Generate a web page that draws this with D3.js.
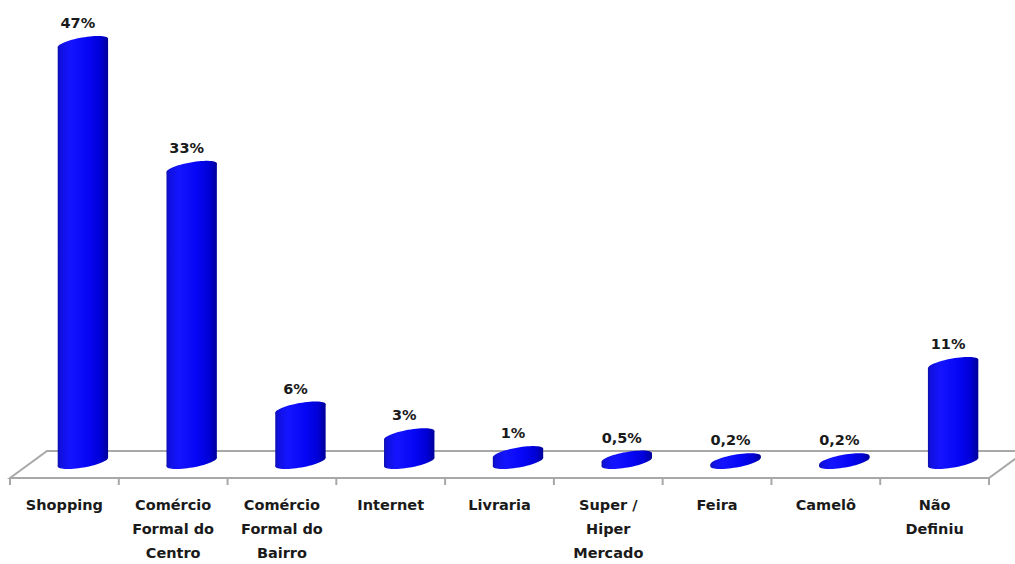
<!DOCTYPE html>
<html><head><meta charset="utf-8">
<script src="https://cdn.jsdelivr.net/npm/d3@7"></script>
<style>html,body{margin:0;padding:0;background:#fff;}svg{display:block;}</style>
</head><body>
<svg id="chart" width="1015" height="564"></svg>
<script>
const categories = ["Shopping","Comércio Formal do Centro","Comércio Formal do Bairro","Internet","Livraria","Super / Hiper Mercado","Feira","Camelô","Não Definiu"];
const categoryLines = [["Shopping"],["Comércio","Formal do","Centro"],["Comércio","Formal do","Bairro"],["Internet"],["Livraria"],["Super /","Hiper","Mercado"],["Feira"],["Camelô"],["Não","Definiu"]];
const values = [47,33,6,3,1,0.5,0.2,0.2,11];

const svg = d3.select("#chart");
const frontY = 478, depthX = 37, depthY = -27;
const x = d3.scaleBand().domain(categories).range([10, 989]).paddingInner(0).paddingOuter(0);
const y = d3.scaleLinear().domain([0, 47]).range([462, 43]);

const defs = svg.append("defs");
const g = defs.append("linearGradient").attr("id","barGrad").attr("x1","0").attr("x2","1").attr("y1","0").attr("y2","0");
[[0,"#1010b0"],[0.06,"#1010e0"],[0.25,"#1414ff"],[0.6,"#0606f6"],[0.85,"#0000d6"],[1,"#000098"]].forEach(([o,c])=>g.append("stop").attr("offset",o).attr("stop-color",c));

// floor
const x0 = x.range()[0], x1 = x.range()[1];
svg.append("path")
  .attr("d", `M${x0},${frontY} L${x0+depthX},${frontY+depthY} L${x1+depthX},${frontY+depthY} L${x1},${frontY} Z`)
  .attr("fill","#fff").attr("stroke","#a8a8a8").attr("stroke-width",2);
const tickXs = categories.map(c=>x(c)).concat([x1]);
svg.selectAll("line.tick").data(tickXs).enter().append("line")
  .attr("x1",d=>d).attr("x2",d=>d).attr("y1",frontY).attr("y2",frontY+7)
  .attr("stroke","#a8a8a8").attr("stroke-width",2);

// bars (cylinders)
const a = x.bandwidth()*0.235, b = 5.5, phi = -10*Math.PI/180;
function ellPt(cx, cy, t){
  return [cx + a*Math.cos(t)*Math.cos(phi) - b*Math.sin(t)*Math.sin(phi),
          cy + a*Math.cos(t)*Math.sin(phi) + b*Math.sin(t)*Math.cos(phi)];
}
const t0 = Math.atan2(-b*Math.sin(phi), a*Math.cos(phi));
function ellipsePath(cx, cy){
  const p = d3.path();
  const n = 60;
  for(let i=0;i<=n;i++){
    const [px,py] = ellPt(cx,cy,2*Math.PI*i/n);
    if(i===0) p.moveTo(px,py); else p.lineTo(px,py);
  }
  p.closePath();
  return p.toString();
}
const cx = c => x(c) + x.bandwidth()/2 + depthX/2;
const bars = svg.selectAll("g.bar").data(categories.map((c,i)=>({c, v:values[i]}))).enter().append("g").attr("class","bar");
bars.each(function(d){
  const gg = d3.select(this);
  const c = cx(d.c), yb = y(0), yt = y(d.v);
  const r1 = ellPt(c, yb, t0), l1 = ellPt(c, yb, t0+Math.PI);
  const r2 = ellPt(c, yt, t0), l2 = ellPt(c, yt, t0+Math.PI);
  gg.append("path").attr("d", ellipsePath(c, yb)).attr("fill","url(#barGrad)");
  gg.append("path").attr("d", `M${l1[0]},${l1[1]} L${l2[0]},${l2[1]} L${r2[0]},${r2[1]} L${r1[0]},${r1[1]} Z`).attr("fill","url(#barGrad)");
  gg.append("path").attr("d", ellipsePath(c, yt)).attr("fill","url(#barGrad)");
});

// value labels
const fmt = v => String(v).replace(".", ",") + "%";
svg.selectAll("text.val").data(categories.map((c,i)=>({c, v:values[i]}))).enter().append("text")
  .attr("x", d => cx(d.c) - 5)
  .attr("y", d => y(d.v) - 15)
  .attr("text-anchor","middle")
  .attr("font-family","DejaVu Sans, sans-serif").attr("font-weight","bold").attr("font-size","14.5px")
  .attr("fill","#1a1a1a")
  .text(d => fmt(d.v));

// category labels
const cl = svg.selectAll("text.cat").data(categories.map((c,i)=>({c, lines:categoryLines[i]}))).enter().append("text")
  .attr("text-anchor","middle")
  .attr("font-family","DejaVu Sans, sans-serif").attr("font-weight","bold").attr("font-size","14.5px")
  .attr("fill","#1a1a1a");
cl.each(function(d){
  const t = d3.select(this);
  d.lines.forEach((ln,j)=>{
    t.append("tspan").attr("x", x(d.c)+x.bandwidth()/2).attr("y", 510 + j*24).text(ln);
  });
});
</script>
</body></html>
